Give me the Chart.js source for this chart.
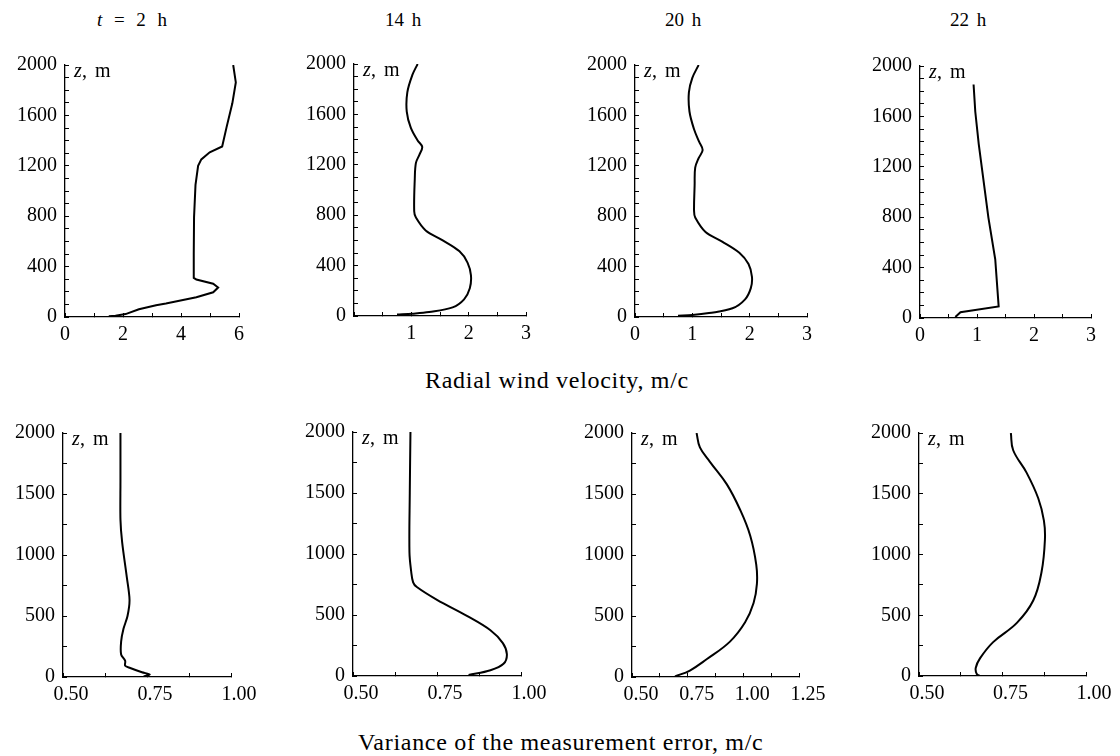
<!DOCTYPE html>
<html>
<head>
<meta charset="utf-8">
<script src="https://cdn.jsdelivr.net/npm/chart.js@4/dist/chart.umd.min.js"></script>
<style>
  body { margin: 0; background: #fff; }
  #page { position: relative; width: 1120px; height: 756px; overflow: hidden; font-family: 'Liberation Serif', serif; color: #000; }
  canvas { position: absolute; }
  .title { position: absolute; width: 400px; text-align: center; white-space: nowrap; }
  .small { font-size: 19px; line-height: 19px; word-spacing: 3px; }
  .wide { word-spacing: 7px; }
  .big { font-size: 24px; line-height: 24px; letter-spacing: 0.7px; }
</style>
</head>
<body>
<div id="page">
  <div class="title small wide" style="left:-68px; top:10px;"><i>t</i> = 2 h</div>
  <div class="title small" style="left:203px; top:10px;">14 h</div>
  <div class="title small" style="left:483px; top:10px;">20 h</div>
  <div class="title small" style="left:768px; top:10px;">22 h</div>
  <div class="title big" style="left:357px; top:368px;">Radial wind velocity, m/c</div>
  <div class="title big" style="left:358px; top:730px;">Variance of the measurement error, m/c</div>
</div>
<script>
// heights (m) and values
const z2h = [5, 10, 23, 61, 94, 107, 157, 196, 234, 264, 297, 310, 500, 793, 1048, 1200, 1251, 1307, 1353, 1505, 1696, 1862, 2000];
const wind2h = [1.51, 1.74, 2.09, 2.55, 3.14, 3.48, 4.53, 5.11, 5.28, 5.11, 4.53, 4.44, 4.44, 4.45, 4.50, 4.59, 4.70, 4.99, 5.42, 5.57, 5.77, 5.89, 5.80];

const z14h = [11, 18, 31, 68, 132, 220, 322, 424, 513, 602, 679, 781, 832, 1088, 1215, 1279, 1342, 1393, 1495, 1622, 1775, 1915, 2000];
const wind14h = [0.75, 1.02, 1.31, 1.72, 1.92, 2.02, 2.04, 1.98, 1.84, 1.54, 1.25, 1.08, 1.05, 1.06, 1.08, 1.14, 1.19, 1.11, 0.99, 0.92, 0.93, 1.02, 1.11];

const z20h = [10, 15, 31, 69, 140, 229, 318, 420, 510, 599, 675, 790, 841, 1045, 1185, 1261, 1325, 1389, 1490, 1631, 1783, 1898, 2000];
const wind20h = [0.75, 1.00, 1.29, 1.70, 1.92, 2.02, 2.04, 1.98, 1.82, 1.52, 1.23, 1.05, 1.03, 1.04, 1.05, 1.11, 1.18, 1.12, 1.03, 0.95, 0.94, 1.00, 1.11];

const z22h = [8, 46, 92, 466, 797, 1382, 1637, 1853];
const wind22h = [0.62, 0.71, 1.38, 1.32, 1.20, 1.03, 0.97, 0.94];

const zVar2h = [5, 21, 39, 74, 92, 132, 185, 290, 395, 500, 632, 816, 1105, 1290, 1600, 2000];
const var2h = [0.740, 0.758, 0.735, 0.700, 0.685, 0.685, 0.673, 0.673, 0.680, 0.692, 0.698, 0.690, 0.676, 0.671, 0.671, 0.671];

const zVar14h = [8, 47, 100, 178, 270, 375, 493, 624, 729, 768, 860, 1017, 1500, 2000];
const var14h = [0.844, 0.909, 0.948, 0.958, 0.946, 0.909, 0.839, 0.750, 0.690, 0.679, 0.673, 0.668, 0.669, 0.671];

const zVar20h = [5, 53, 145, 290, 448, 606, 763, 921, 1158, 1369, 1579, 1764, 1882, 2000];
const var20h = [0.693, 0.760, 0.835, 0.940, 1.008, 1.046, 1.061, 1.058, 1.031, 0.986, 0.926, 0.850, 0.805, 0.790];

const zVar22h = [0, 16, 68, 147, 279, 437, 621, 858, 1121, 1279, 1463, 1674, 1858, 2000];
const var22h = [0.683, 0.673, 0.670, 0.683, 0.722, 0.793, 0.842, 0.867, 0.877, 0.874, 0.857, 0.822, 0.782, 0.775];

const varTicks = [0.50, 0.75, 1.00, 1.25];

// chart areas on the page: left, top, right, bottom
const panels = [
  { z: z2h, v: wind2h, area: [65, 55, 239, 317], xmin: 0, xmax: 6, xstep: 1, zstep: 100, zlab: 400, tension: 0,
    xlabel: v => v % 2 === 0 ? v : '' },
  { z: z14h, v: wind14h, area: [354, 54, 526, 316], xmin: 0, xmax: 3, xstep: 0.5, zstep: 100, zlab: 400, tension: 0.35,
    xlabel: v => Number.isInteger(v) && v > 0 ? v : '' },
  { z: z20h, v: wind20h, area: [635, 55, 807, 317], xmin: 0, xmax: 3, xstep: 0.5, zstep: 100, zlab: 400, tension: 0.35,
    xlabel: v => Number.isInteger(v) ? v : '' },
  { z: z22h, v: wind22h, area: [920, 56, 1091, 318], xmin: 0, xmax: 3, xstep: 0.5, zstep: 100, zlab: 400, tension: 0,
    xlabel: v => Number.isInteger(v) ? v : '' },
  { z: zVar2h, v: var2h, area: [63, 423, 231, 677], xmin: 0.5, xmax: 1.0, xstep: 0.125, zstep: 250, zlab: 500, tension: 0.3, shift: 8,
    xlabel: v => varTicks.includes(v) ? v.toFixed(2) : '' },
  { z: zVar14h, v: var14h, area: [353, 422, 521, 676], xmin: 0.5, xmax: 1.0, xstep: 0.125, zstep: 250, zlab: 500, tension: 0.35, shift: 8,
    xlabel: v => varTicks.includes(v) ? v.toFixed(2) : '' },
  { z: zVar20h, v: var20h, area: [632, 423, 799, 677], xmin: 0.5, xmax: 1.25, xstep: 0.125, zstep: 250, zlab: 500, tension: 0.4, shift: 9,
    xlabel: v => varTicks.includes(v) ? v.toFixed(2) : '' },
  { z: zVar22h, v: var22h, area: [919, 423, 1086, 676], xmin: 0.5, xmax: 1.0, xstep: 0.125, zstep: 250, zlab: 500, tension: 0.4, shift: 8,
    xlabel: v => varTicks.includes(v) ? v.toFixed(2) : '' }
];

const FONT = "'Liberation Serif', 'Times New Roman', serif";
Chart.defaults.font.family = FONT;
Chart.defaults.font.size = 20;
Chart.defaults.color = '#000';

// "z, m" inside the top-left corner of each plot
const zLabel = {
  id: 'zLabel',
  afterDraw(chart) {
    const { ctx, chartArea } = chart;
    const x = chartArea.left + 9, y = chartArea.top + 12;
    ctx.save();
    ctx.fillStyle = '#000';
    ctx.font = 'italic 20px ' + FONT;
    ctx.fillText('z', x, y);
    ctx.font = '20px ' + FONT;
    ctx.fillText(',', x + 8, y);
    ctx.fillText('m', x + 21, y);
    ctx.restore();
  }
};

const YW = 60, XH = 34, PT = 14, PR = 28;
const page = document.getElementById('page');

function drawAll() {
  panels.forEach(p => {
    const [L, T, R, B] = p.area;
    const cv = document.createElement('canvas');
    cv.width = R - L + YW + PR;
    cv.height = B - T + PT + XH;
    cv.style.left = (L - YW) + 'px';
    cv.style.top = (T - PT) + 'px';
    page.appendChild(cv);

    new Chart(cv, {
      type: 'scatter',
      data: {
        datasets: [{
          data: p.z.map((z, i) => ({ x: p.v[i], y: z })),
          showLine: true,
          borderColor: '#000',
          borderWidth: 2,
          pointRadius: 0,
          tension: p.tension,
          fill: false
        }]
      },
      options: {
        responsive: false,
        animation: false,
        devicePixelRatio: 1,
        layout: { padding: { top: PT, right: PR, left: 0, bottom: 0 } },
        plugins: { legend: { display: false }, tooltip: { enabled: false } },
        scales: {
          x: {
            type: 'linear',
            min: p.xmin, max: p.xmax,
            afterFit: s => { s.height = XH; },
            border: { display: true, color: '#000', width: 1.3 },
            grid: { drawOnChartArea: false, drawTicks: true, tickLength: -4, color: '#000', tickWidth: 1 },
            ticks: { stepSize: p.xstep, autoSkip: false, maxRotation: 0, maxTicksLimit: 100, padding: 10,
                     labelOffset: p.shift || 0, callback: p.xlabel }
          },
          y: {
            type: 'linear',
            min: 0, max: 2000,
            afterFit: s => { s.width = YW; },
            border: { display: true, color: '#000', width: 1.3 },
            grid: { drawOnChartArea: false, drawTicks: true, tickLength: -4, color: '#000', tickWidth: 1 },
            ticks: { stepSize: p.zstep, autoSkip: false, maxTicksLimit: 100, padding: 12,
                     callback: v => v % p.zlab === 0 ? v : '' }
          }
        }
      },
      plugins: [zLabel]
    });
  });
}

Promise.all([
  document.fonts.load("20px 'Liberation Serif'"),
  document.fonts.load("italic 20px 'Liberation Serif'")
]).then(drawAll, drawAll);
</script>
</body>
</html>
